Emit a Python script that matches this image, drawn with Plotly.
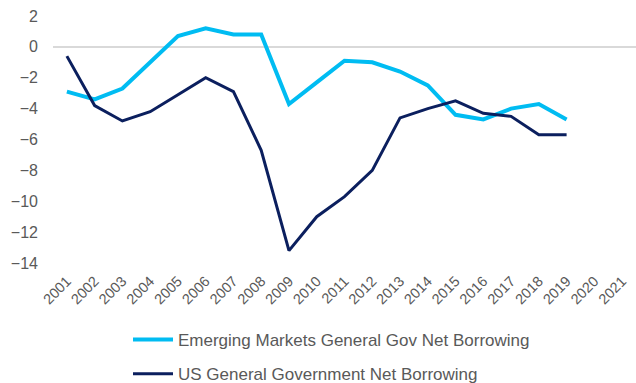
import plotly.graph_objects as go

years = [str(y) for y in range(2001, 2022)]
em_years = years[:19]
em_values = [-2.9, -3.4, -2.7, -1.0, 0.7, 1.2, 0.8, 0.8, -3.7, -2.3, -0.9, -1.0,
             -1.6, -2.5, -4.4, -4.7, -4.0, -3.7, -4.7]
us_values = [-0.6, -3.8, -4.8, -4.2, -3.1, -2.0, -2.9, -6.7, -13.2, -11.0, -9.7, -8.0,
             -4.6, -4.0, -3.5, -4.3, -4.5, -5.7, -5.7]
y_ticks = [2, 0, -2, -4, -6, -8, -10, -12, -14]

em_name = "Emerging Markets General Gov Net Borrowing"
us_name = "US General Government Net Borrowing"

fig = go.Figure()
fig.add_trace(go.Scatter(x=em_years, y=em_values, mode="lines", name=em_name,
                         line=dict(color="#00BCF2", width=4), legendgroup="a"))
fig.add_trace(go.Scatter(x=em_years, y=us_values, mode="lines", name=us_name,
                         line=dict(color="#0B1F5E", width=3), legendgroup="b"))

fig.update_layout(
    width=636, height=383,
    margin=dict(l=53, r=0, t=16, b=120, autoexpand=False),
    paper_bgcolor="white", plot_bgcolor="white",
    font=dict(family="Liberation Sans, Arial, sans-serif", color="#595959"),
    showlegend=True,
    legend=dict(orientation="v", xref="container", yref="container",
                x=128/636, xanchor="left", y=1 - 322/383, yanchor="top",
                font=dict(size=17, color="#595959"),
                traceorder="grouped", tracegroupgap=9, itemwidth=40,
                bgcolor="rgba(0,0,0,0)"),
)
fig.update_xaxes(type="category", categoryorder="array", categoryarray=years,
                 tickvals=years, ticktext=years,
                 range=[-0.5, 20.5], tickangle=-45, showgrid=False, zeroline=False,
                 showline=False, ticks="", tickfont=dict(size=14.5, color="#595959"),
                 ticklabelstandoff=6, automargin=False)
fig.update_yaxes(range=[-14, 2], tickvals=y_ticks, showgrid=False,
                 zeroline=True, zerolinecolor="#D9D9D9", zerolinewidth=1.5,
                 showline=False, ticks="", tickfont=dict(size=16, color="#595959"),
                 ticklabelstandoff=14, automargin=False)

fig.write_html("out.html")
